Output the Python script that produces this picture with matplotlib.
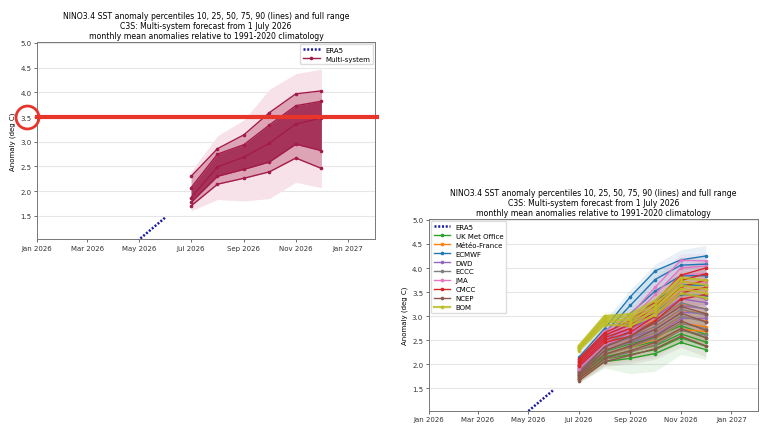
import numpy as np
import matplotlib
matplotlib.use("Agg")
import matplotlib.pyplot as plt
import matplotlib.dates as mdates

# forecast months (valid month start) and ERA5 months
months = np.array(["2026-07-01", "2026-08-01", "2026-09-01",
                   "2026-10-01", "2026-11-01", "2026-12-01"], dtype="datetime64[D]")
era5_months = np.array(["2026-03-01", "2026-04-01", "2026-05-01", "2026-06-01"], dtype="datetime64[D]")
era5_values = [0.20, 0.60, 1.02, 1.47]

# multi-system percentiles (p10, p25, p50, p75, p90) and full range
multi_pct = [[1.70, 2.14, 2.26, 2.39, 2.67, 2.46],
             [1.77, 2.30, 2.44, 2.59, 2.95, 2.82],
             [1.87, 2.49, 2.69, 2.97, 3.36, 3.48],
             [2.07, 2.75, 2.94, 3.34, 3.73, 3.82],
             [2.30, 2.86, 3.14, 3.59, 3.97, 4.03]]
multi_min = [1.60, 1.83, 1.80, 1.85, 2.18, 2.07]
multi_max = [2.40, 3.12, 3.44, 4.06, 4.38, 4.47]

# per-system percentiles (p10, p25, p50, p75, p90), then min and max
system_names = ["UK Met Office", "Météo-France", "ECMWF", "DWD", "ECCC",
                "JMA", "CMCC", "NCEP", "BOM"]
ukmo = [[1.70, 2.05, 2.12, 2.22, 2.45, 2.30],
        [1.74, 2.10, 2.20, 2.30, 2.55, 2.37],
        [1.78, 2.15, 2.27, 2.38, 2.63, 2.46],
        [1.82, 2.20, 2.35, 2.47, 2.72, 2.55],
        [1.86, 2.26, 2.42, 2.56, 2.80, 2.62],
        [1.62, 1.92, 1.80, 1.85, 2.20, 2.10],
        [1.95, 2.40, 2.60, 2.80, 3.05, 2.90]]
meteofrance = [[1.68, 2.10, 2.25, 2.40, 2.72, 2.68],
               [1.73, 2.20, 2.35, 2.52, 2.85, 2.78],
               [1.78, 2.28, 2.45, 2.65, 2.98, 2.90],
               [1.84, 2.36, 2.55, 2.78, 3.12, 3.05],
               [1.90, 2.45, 2.66, 2.92, 3.25, 3.15],
               [1.63, 2.00, 2.10, 2.20, 2.50, 2.40],
               [2.00, 2.60, 2.85, 3.15, 3.50, 3.40]]
ecmwf = [[1.85, 2.35, 2.72, 3.10, 3.45, 3.42],
         [1.92, 2.45, 2.88, 3.32, 3.65, 3.64],
         [1.99, 2.55, 3.05, 3.52, 3.84, 3.84],
         [2.06, 2.65, 3.22, 3.76, 4.06, 4.08],
         [2.14, 2.74, 3.40, 3.94, 4.17, 4.25],
         [1.78, 2.25, 2.60, 2.95, 3.30, 3.20],
         [2.25, 2.90, 3.55, 4.08, 4.38, 4.47]]
dwd = [[1.78, 2.28, 2.45, 2.60, 2.95, 2.95],
       [1.83, 2.36, 2.55, 2.72, 3.08, 3.05],
       [1.88, 2.44, 2.64, 2.85, 3.22, 3.15],
       [1.93, 2.52, 2.74, 2.98, 3.36, 3.28],
       [1.98, 2.60, 2.84, 3.10, 3.50, 3.35],
       [1.70, 2.15, 2.30, 2.40, 2.75, 2.70],
       [2.08, 2.72, 3.00, 3.30, 3.75, 3.60]]
eccc = [[1.70, 2.10, 2.25, 2.40, 2.70, 2.60],
        [1.75, 2.20, 2.36, 2.54, 2.85, 2.74],
        [1.80, 2.28, 2.46, 2.66, 3.00, 2.88],
        [1.85, 2.36, 2.56, 2.78, 3.14, 3.02],
        [1.90, 2.45, 2.65, 2.90, 3.28, 3.14],
        [1.62, 1.98, 2.05, 2.15, 2.45, 2.35],
        [2.00, 2.60, 2.85, 3.10, 3.50, 3.40]]
jma = [[1.90, 2.40, 2.62, 3.00, 3.55, 3.55],
       [1.95, 2.46, 2.72, 3.15, 3.70, 3.70],
       [2.00, 2.52, 2.82, 3.30, 3.86, 3.88],
       [2.05, 2.60, 2.92, 3.45, 4.00, 4.04],
       [2.10, 2.68, 3.02, 3.60, 4.16, 4.15],
       [1.82, 2.30, 2.50, 2.80, 3.35, 3.30],
       [2.18, 2.80, 3.15, 3.80, 4.30, 4.30]]
cmcc = [[1.95, 2.45, 2.58, 2.90, 3.35, 3.45],
        [1.99, 2.50, 2.66, 3.00, 3.48, 3.60],
        [2.03, 2.55, 2.74, 3.10, 3.60, 3.75],
        [2.07, 2.60, 2.82, 3.20, 3.74, 3.88],
        [2.11, 2.65, 2.90, 3.30, 3.85, 4.00],
        [1.88, 2.35, 2.45, 2.75, 3.15, 3.25],
        [2.18, 2.75, 3.05, 3.45, 4.05, 4.15]]
ncep = [[1.65, 2.05, 2.18, 2.32, 2.58, 2.38],
        [1.69, 2.12, 2.28, 2.45, 2.74, 2.55],
        [1.73, 2.20, 2.38, 2.58, 2.90, 2.70],
        [1.77, 2.28, 2.48, 2.72, 3.06, 2.88],
        [1.81, 2.36, 2.58, 2.86, 3.20, 3.05],
        [1.60, 1.95, 2.00, 2.10, 2.35, 2.15],
        [1.90, 2.50, 2.75, 3.05, 3.40, 3.25]]
bom = [[2.28, 2.82, 2.80, 3.02, 3.48, 3.38],
       [2.31, 2.88, 2.86, 3.10, 3.57, 3.48],
       [2.33, 2.92, 2.92, 3.17, 3.64, 3.56],
       [2.35, 2.96, 2.98, 3.24, 3.72, 3.65],
       [2.38, 3.00, 3.04, 3.32, 3.80, 3.74],
       [2.22, 2.75, 2.72, 2.95, 3.38, 3.25],
       [2.45, 3.08, 3.15, 3.45, 3.95, 3.85]]
system_data = [ukmo, meteofrance, ecmwf, dwd, eccc, jma, cmcc, ncep, bom]
system_colors = ["#2ca02c", "#ff7f0e", "#1f77b4", "#9467bd", "#7f7f7f",
                 "#e377c2", "#d62728", "#8c564b", "#bcbd22"]

title = ("NINO3.4 SST anomaly percentiles 10, 25, 50, 75, 90 (lines) and full range\n"
         "C3S: Multi-system forecast from 1 July 2026\n"
         "monthly mean anomalies relative to 1991-2020 climatology")

FS = 5.0
ERA5_COL = "#1a1aa0"
MULTI_COL = "#a31b4b"
ANNOT_COL = "#e8352b"


def style_axes(ax):
    ax.set_xlim(np.datetime64("2026-01-01"), np.datetime64("2027-02-02"))
    ax.set_ylim(1.03, 5.02)
    ax.set_yticks([1.5, 2.0, 2.5, 3.0, 3.5, 4.0, 4.5, 5.0])
    ax.xaxis.set_major_locator(mdates.MonthLocator(bymonth=[1, 3, 5, 7, 9, 11]))
    ax.xaxis.set_major_formatter(mdates.DateFormatter("%b %Y"))
    ax.tick_params(labelsize=FS, length=2, width=0.5, pad=2, colors="#333333")
    ax.grid(axis="y", color="#e6e6e6", linewidth=0.8)
    ax.set_axisbelow(True)
    for sp in ax.spines.values():
        sp.set_color("#777777")
        sp.set_linewidth(0.7)
    ax.set_ylabel("Anomaly (deg C)", fontsize=FS, labelpad=3)
    ax.set_title(title, fontsize=5.6, pad=3, linespacing=1.15)


fig = plt.figure(figsize=(7.68, 4.39), dpi=100)

# left panel: multi-system percentiles
ax1 = fig.add_axes([37 / 768, 1 - 240 / 439, 338 / 768, 197 / 439])
style_axes(ax1)
ax1.fill_between(months, multi_min, multi_max, color="#f6e2e8", lw=0)
ax1.fill_between(months, multi_pct[0], multi_pct[4], color="#dda4b5", lw=0)
ax1.fill_between(months, multi_pct[1], multi_pct[3], color="#a6345a", lw=0)
ax1.plot(era5_months, era5_values, ls=(0, (0.8, 0.7)), lw=1.8, color=ERA5_COL, label="ERA5")
for i, row in enumerate(multi_pct):
    ax1.plot(months, row, color=MULTI_COL, lw=1, marker="o", ms=1.6,
             label="Multi-system" if i == 0 else None)
ax1.legend(loc="upper right", fontsize=FS, handlelength=2.4, borderaxespad=0.3,
           labelspacing=0.4, framealpha=1, edgecolor="#dddddd")

# red annotation at 3.5
tr = ax1.get_yaxis_transform()
ax1.plot([0, 1.006], [3.5, 3.5], transform=tr, color=ANNOT_COL, lw=3, clip_on=False, zorder=10)
ax1.plot([-0.0305], [3.5], transform=tr, marker="o", ms=16.5, mfc="none",
         mec=ANNOT_COL, mew=2, clip_on=False, zorder=10)

# right panel: individual systems
ax2 = fig.add_axes([428.7 / 768, 1 - 411.7 / 439, 329.3 / 768, 191.7 / 439])
style_axes(ax2)
ax2.plot(era5_months, era5_values, ls=(0, (0.8, 0.7)), lw=1.8, color=ERA5_COL, label="ERA5")
for name, data, col in zip(system_names, system_data, system_colors):
    ax2.fill_between(months, data[5], data[6], color=col, alpha=0.1, lw=0)
    ax2.fill_between(months, data[0], data[4], color=col, alpha=0.12, lw=0)
for name, data, col in zip(system_names, system_data, system_colors):
    lw = 1.6 if name == "BOM" else 1.0
    for i in range(5):
        ax2.plot(months, data[i], color=col, lw=lw, marker="o", ms=1.6,
                 alpha=0.85 if name == "BOM" else 1, label=name if i == 0 else None)
ax2.legend(loc="upper left", fontsize=FS, handlelength=2.4, borderaxespad=0.3,
           labelspacing=0.42, framealpha=1, edgecolor="#dddddd")

fig.savefig("out.png", dpi=100)
